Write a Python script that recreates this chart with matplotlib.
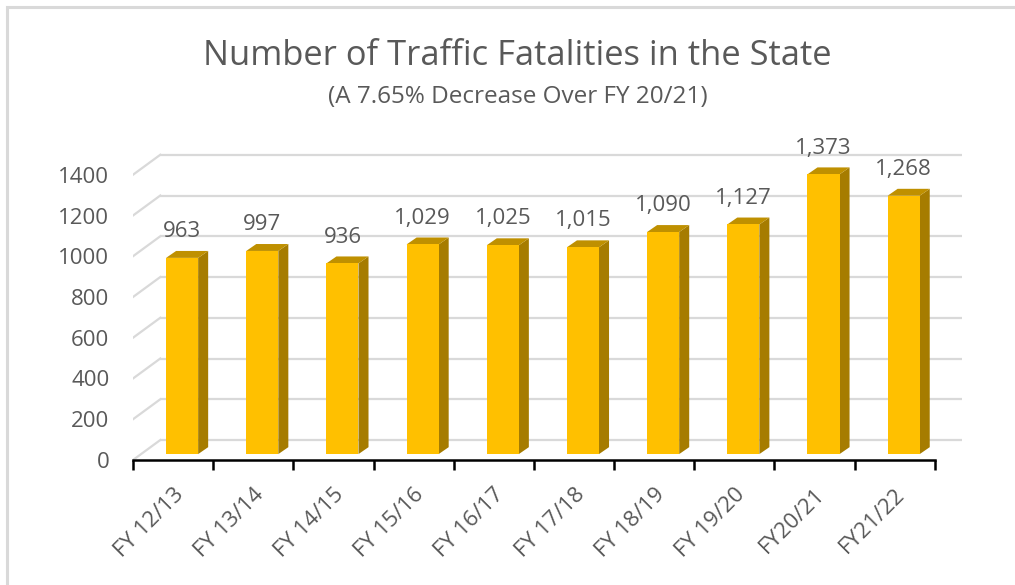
import matplotlib
matplotlib.use('Agg')
import matplotlib.pyplot as plt
from matplotlib.patches import Polygon, Rectangle
from matplotlib.transforms import ScaledTranslation

# data
years = ['FY 12/13', 'FY 13/14', 'FY 14/15', 'FY 15/16', 'FY 16/17',
         'FY 17/18', 'FY 18/19', 'FY 19/20', 'FY20/21', 'FY21/22']
fatalities = [963, 997, 936, 1029, 1025, 1015, 1090, 1127, 1373, 1268]
y_ticks = [0, 200, 400, 600, 800, 1000, 1200, 1400]

title = 'Number of Traffic Fatalities in the State'
subtitle = '(A 7.65% Decrease Over FY 20/21)'

# fake 3d look (Excel style)
WALL_DX, WALL_DY = 0.34, 98      # depth of the back wall
BAR_OFF_X, BAR_OFF_Y = 0.1125, 29  # bar front face pushed into depth
BAR_DX, BAR_DY = 0.125, 34        # depth of each bar
BAR_W = 0.4

TEXT = '#595959'
GRID = '#d9d9d9'
FRONT = '#ffc000'
SIDE = '#a67c00'
TOP = '#bf9000'

plt.rcParams['font.family'] = ['Open Sans', 'DejaVu Sans']

fig = plt.figure(figsize=(10.15, 5.85), dpi=100)
ax = fig.add_axes([133 / 1015, 125 / 585, 829 / 1015, 326 / 585])
ax.set_xlim(-0.5, 9.5 + WALL_DX)
ax.set_ylim(0, 1600)

n = len(years)
x_left, x_right = -0.5, n - 0.5
for v in y_ticks:
    ax.plot([x_left + WALL_DX, x_right + WALL_DX], [v + WALL_DY, v + WALL_DY],
            color=GRID, lw=1.6, zorder=1, solid_capstyle='butt')
    ax.plot([x_left, x_left + WALL_DX], [v, v + WALL_DY],
            color=GRID, lw=1.6, zorder=1)

for i, v in enumerate(fatalities):
    xl = i + BAR_OFF_X - BAR_W / 2
    xr = xl + BAR_W
    b = BAR_OFF_Y
    t = v + BAR_OFF_Y
    ax.add_patch(Polygon([(xr, b), (xr + BAR_DX, b + BAR_DY), (xr + BAR_DX, t + BAR_DY), (xr, t)],
                         closed=True, facecolor=SIDE, edgecolor='none', zorder=3))
    ax.add_patch(Polygon([(xl, t), (xl + BAR_DX, t + BAR_DY), (xr + BAR_DX, t + BAR_DY), (xr, t)],
                         closed=True, facecolor=TOP, edgecolor='none', zorder=3))
    ax.bar(i + BAR_OFF_X, v, width=BAR_W, bottom=b, color=FRONT, zorder=4)
    ax.annotate(f'{v:,}', (i + BAR_OFF_X, t + BAR_DY), xytext=(0, 10), textcoords='offset points',
                ha='center', va='baseline', fontsize=16, color=TEXT, annotation_clip=False)

for side in ['left', 'right', 'top']:
    ax.spines[side].set_visible(False)
ax.spines['bottom'].set_bounds(x_left, x_right)
ax.spines['bottom'].set_linewidth(1.8)
ax.spines['bottom'].set_zorder(5)

ax.set_yticks(y_ticks)
ax.set_yticklabels([str(v) for v in y_ticks])
ax.tick_params(axis='y', length=0, pad=17, labelsize=16, labelcolor=TEXT)

ax.set_xticks([k - 0.5 for k in range(n + 1)])
ax.set_xticklabels([])
ax.tick_params(axis='x', which='major', length=7, width=1.8, direction='out')
ax.set_xticks(range(n), minor=True)
ax.set_xticklabels(years, minor=True, rotation=45, ha='right', rotation_mode='anchor')
ax.tick_params(axis='x', which='minor', length=0, pad=17, labelsize=16, labelcolor=TEXT)
shift = ScaledTranslation(0, 0, fig.dpi_scale_trans)
for lab in ax.get_xticklabels(minor=True):
    lab.set_transform(lab.get_transform() + shift)

fig.text(0.51, 1 - 56 / 585, title, ha='center', va='center', fontsize=24.8, color=TEXT)
fig.text(0.51, 1 - 97 / 585, subtitle, ha='center', va='center', fontsize=17.5, color=TEXT)

fig.add_artist(Rectangle((7 / 1015, -0.1), 1.2, 1.1 - 7 / 585, transform=fig.transFigure,
                         fill=False, edgecolor=GRID, lw=2.2))

fig.savefig('out.png', dpi=100)
